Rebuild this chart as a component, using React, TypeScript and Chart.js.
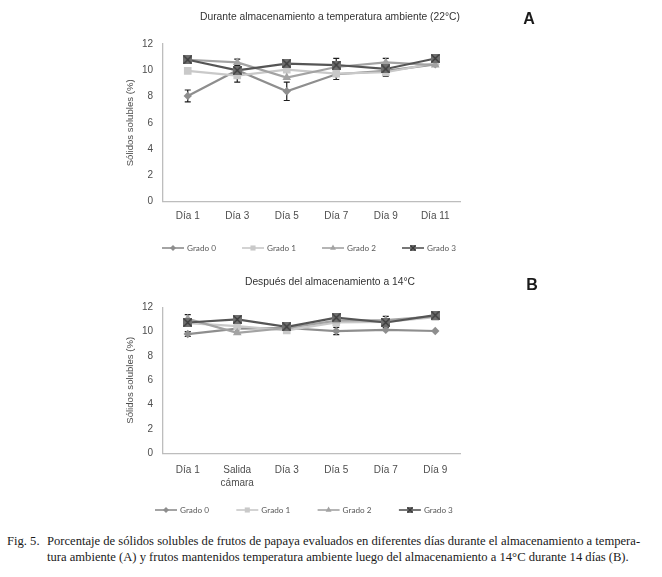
import React, { useEffect, useRef } from "react";
import { Chart, registerables } from "chart.js";
import { drawPoint } from "chart.js/helpers";

Chart.register(...registerables);

// ---------------- data ----------------
const seriesLabels = ["Grado 0", "Grado 1", "Grado 2", "Grado 3"];

const daysA = ["Día 1", "Día 3", "Día 5", "Día 7", "Día 9", "Día 11"];
const grado0A = [8.05, 10.0, 8.4, 9.7, 9.95, 10.45];
const grado1A = [9.95, 9.6, 10.05, 9.75, 9.85, 10.55];
const grado2A = [10.8, 10.6, 9.45, 10.25, 10.6, 10.4];
const grado3A = [10.8, 10.0, 10.5, 10.4, 10.1, 10.9];
const err0A = [0.45, 0, 0.7, 0, 0, 0];
const err1A = [0, 0.5, 0, 0.45, 0.3, 0];
const err2A = [0, 0.25, 0, 0, 0.3, 0];
const err3A = [0, 0, 0, 0.5, 0, 0];

const daysB = ["Día 1", ["Salida", "cámara"], "Día 3", "Día 5", "Día 7", "Día 9"];
const grado0B = [9.8, 10.25, 10.3, 10.05, 10.15, 10.05];
const grado1B = [10.7, 10.45, 10.1, 10.75, 10.8, 11.2];
const grado2B = [11.05, 9.9, 10.3, 10.9, 10.95, 11.25];
const grado3B = [10.75, 11.0, 10.4, 11.15, 10.75, 11.35];
const err0B = [0.2, 0, 0, 0.3, 0, 0];
const err1B = [0, 0, 0, 0, 0.45, 0];
const err2B = [0.35, 0, 0, 0, 0, 0];
const err3B = [0, 0, 0, 0, 0, 0];

const yMin = 0;
const yMax = 12;
const yStep = 2;

const titleA = "Durante almacenamiento a temperatura ambiente (22°C)";
const titleB = "Después del almacenamiento a 14°C";
const yTitle = "Sólidos solubles (%)";
const captionLabel = "Fig. 5.";
const captionLine1 =
  "Porcentaje de sólidos solubles de frutos de papaya evaluados en diferentes días durante el almacenamiento a tempera-";
const captionLine2 =
  "tura ambiente (A) y frutos mantenidos temperatura ambiente luego del almacenamiento a 14°C durante 14 días (B).";

// ---------------- styles ----------------
const seriesColors = ["#8e8e8e", "#c9c9c9", "#a3a3a3", "#555555"];
const SANS = '"Liberation Sans", Arial, sans-serif';

function makeXSquare(size: number, fill: string, stroke: string) {
  const c = document.createElement("canvas");
  c.width = size;
  c.height = size;
  const ctx = c.getContext("2d")!;
  ctx.fillStyle = fill;
  ctx.fillRect(0, 0, size, size);
  ctx.strokeStyle = stroke;
  ctx.lineWidth = 1.3;
  ctx.beginPath();
  ctx.moveTo(0.5, 0.5);
  ctx.lineTo(size - 0.5, size - 0.5);
  ctx.moveTo(size - 0.5, 0.5);
  ctx.lineTo(0.5, size - 0.5);
  ctx.stroke();
  return c;
}

type PanelCfg = {
  labels: any[];
  values: number[][];
  errors: number[][];
  title: string;
  letter: string;
  titleY: number;
  letterX: number;
  letterY: number;
  padTop: number;
  padBottom: number;
  xHeight: number;
  xTickPad: number;
  legendX: number;
  legendStep: number;
  legendY: number;
};

function buildChart(canvas: HTMLCanvasElement, cfg: PanelCfg) {
  const bigX = makeXSquare(9, "#6f6f6f", "#3a3a3a");
  const smallX = makeXSquare(6, "#6f6f6f", "#3a3a3a");
  const pointStyles: any[] = ["rectRot", "rect", "triangle", bigX];
  const radii = [4.2, 5.4, 5, 4.5];
  const legendStyles: any[] = ["rectRot", "rect", "triangle", smallX];
  const legendRadii = [3, 3.6, 3.4, 3];

  const errorBars = {
    id: "errorBars" + cfg.letter,
    beforeDatasetsDraw(chart: any) {
      const ctx = chart.ctx;
      const ys = chart.scales.y;
      ctx.save();
      ctx.strokeStyle = "#1e1e1e";
      ctx.lineWidth = 1.2;
      chart.data.datasets.forEach((ds: any, i: number) => {
        const meta = chart.getDatasetMeta(i);
        meta.data.forEach((pt: any, j: number) => {
          const e = cfg.errors[i][j];
          if (!e) return;
          const v = ds.data[j];
          const t = ys.getPixelForValue(v + e);
          const b = ys.getPixelForValue(v - e);
          ctx.beginPath();
          ctx.moveTo(pt.x, t);
          ctx.lineTo(pt.x, b);
          ctx.moveTo(pt.x - 3, t);
          ctx.lineTo(pt.x + 3, t);
          ctx.moveTo(pt.x - 3, b);
          ctx.lineTo(pt.x + 3, b);
          ctx.stroke();
        });
      });
      ctx.restore();
    },
  };

  const decor = {
    id: "decor" + cfg.letter,
    afterDraw(chart: any) {
      const ctx = chart.ctx;
      ctx.save();
      ctx.textAlign = "center";
      ctx.textBaseline = "middle";
      ctx.fillStyle = "#333333";
      ctx.font = `10.3px ${SANS}`;
      ctx.fillText(cfg.title, 330, cfg.titleY);
      ctx.fillStyle = "#1a1a1a";
      ctx.font = `bold 16px ${SANS}`;
      ctx.fillText(cfg.letter, cfg.letterX, cfg.letterY);

      // legend
      chart.data.datasets.forEach((ds: any, i: number) => {
        const x0 = cfg.legendX + i * cfg.legendStep;
        const y0 = cfg.legendY;
        ctx.strokeStyle = ds.borderColor;
        ctx.lineWidth = 1.6;
        ctx.beginPath();
        ctx.moveTo(x0, y0);
        ctx.lineTo(x0 + 22, y0);
        ctx.stroke();
        ctx.fillStyle = ds.borderColor;
        ctx.strokeStyle = ds.borderColor;
        drawPoint(
          ctx,
          { pointStyle: legendStyles[i], radius: legendRadii[i], rotation: 0, borderWidth: 0 } as any,
          x0 + 11,
          y0
        );
        ctx.fillStyle = "#595959";
        ctx.textAlign = "left";
        ctx.font = `8.2px Lato, "Open Sans", sans-serif`;
        ctx.fillText(ds.label, x0 + 25, y0 + 0.5);
      });
      ctx.restore();
    },
  };

  const datasets = cfg.values.map((vals, i) => ({
    label: seriesLabels[i],
    data: vals,
    borderColor: seriesColors[i],
    backgroundColor: seriesColors[i],
    borderWidth: 2.2,
    pointStyle: pointStyles[i],
    pointRadius: radii[i],
    pointHoverRadius: radii[i],
    pointBackgroundColor: i === 3 ? "#6f6f6f" : seriesColors[i],
    pointBorderColor: seriesColors[i],
    pointBorderWidth: 0,
    tension: 0,
    order: 3 - i,
  }));

  return new Chart(canvas, {
    type: "line",
    data: { labels: cfg.labels, datasets },
    options: {
      responsive: false,
      animation: false,
      events: [],
      layout: { padding: { left: 120, right: 202, top: cfg.padTop, bottom: cfg.padBottom } },
      plugins: { legend: { display: false }, tooltip: { enabled: false }, title: { display: false } },
      scales: {
        x: {
          type: "category",
          offset: true,
          grid: { display: false, drawTicks: false },
          border: { display: true, color: "#bdbdbd", width: 1.3 },
          ticks: {
            color: "#4d4d4d",
            font: { family: SANS, size: 10, lineHeight: 1.3 },
            padding: cfg.xTickPad,
            maxRotation: 0,
            autoSkip: false,
          },
          afterFit: (s: any) => {
            s.height = cfg.xHeight;
          },
        },
        y: {
          min: yMin,
          max: yMax,
          grid: { display: false, drawTicks: false },
          border: { display: true, color: "#bdbdbd", width: 1.3 },
          ticks: {
            stepSize: yStep,
            color: "#4d4d4d",
            font: { family: SANS, size: 10 },
            padding: 10,
          },
          title: {
            display: true,
            text: yTitle,
            color: "#4d4d4d",
            font: { family: SANS, size: 9.6 },
            padding: { top: 5, bottom: 0 },
          },
          afterFit: (s: any) => {
            s.width = 43;
          },
        },
      },
    } as any,
    plugins: [errorBars, decor],
  });
}

function Panel({ cfg, top }: { cfg: PanelCfg; top: number }) {
  const ref = useRef<HTMLCanvasElement | null>(null);
  useEffect(() => {
    if (!ref.current) return;
    const ch = buildChart(ref.current, cfg);
    return () => ch.destroy();
  }, []);
  return (
    <canvas
      ref={ref}
      width={662}
      height={265}
      style={{ position: "absolute", left: 0, top, width: 662, height: 265 }}
    />
  );
}

const panelA: PanelCfg = {
  labels: daysA,
  values: [grado0A, grado1A, grado2A, grado3A],
  errors: [err0A, err1A, err2A, err3A],
  title: titleA,
  letter: "A",
  titleY: 17.5,
  letterX: 529,
  letterY: 20,
  padTop: 44,
  padBottom: 33.3,
  xHeight: 30,
  xTickPad: 8.5,
  legendX: 162,
  legendStep: 80,
  legendY: 248,
};

const panelB: PanelCfg = {
  labels: daysB,
  values: [grado0B, grado1B, grado2B, grado3B],
  errors: [err0B, err1B, err2B, err3B],
  title: titleB,
  letter: "B",
  titleY: 17,
  letterX: 532,
  letterY: 21,
  padTop: 42.3,
  padBottom: 26.7,
  xHeight: 50,
  xTickPad: 10,
  legendX: 155,
  legendStep: 81.3,
  legendY: 245,
};

const captionFont = '12.6px/16px "Liberation Serif", "Times New Roman", serif';

export default function App() {
  return (
    <div
      style={{
        position: "absolute",
        left: 0,
        top: 0,
        width: 662,
        height: 577,
        background: "#ffffff",
        overflow: "hidden",
      }}
    >
      <Panel cfg={panelA} top={0} />
      <Panel cfg={panelB} top={265} />
      <div style={{ position: "absolute", left: 7, top: 533, font: captionFont, color: "#1a1a1a" }}>
        {captionLabel}
      </div>
      <div
        style={{
          position: "absolute",
          left: 47,
          top: 533,
          font: captionFont,
          color: "#1a1a1a",
          whiteSpace: "nowrap",
        }}
      >
        {captionLine1}
      </div>
      <div
        style={{
          position: "absolute",
          left: 47,
          top: 549,
          font: captionFont,
          color: "#1a1a1a",
          whiteSpace: "nowrap",
        }}
      >
        {captionLine2}
      </div>
    </div>
  );
}
